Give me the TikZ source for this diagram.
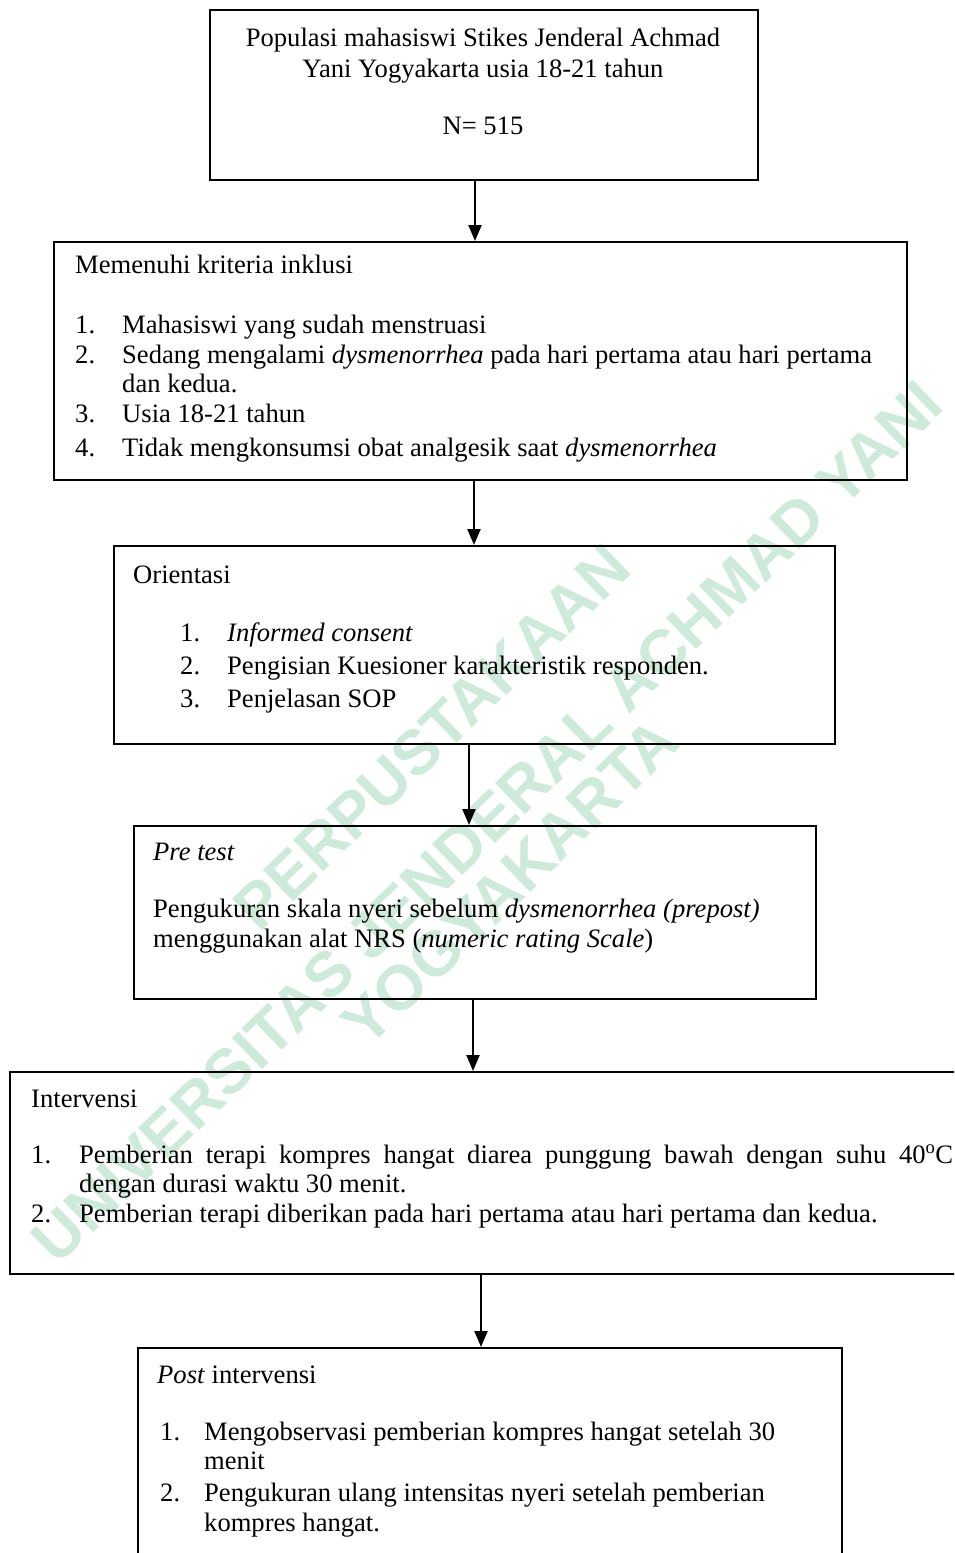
\documentclass[tikz,border=0pt]{standalone}
\usepackage{fontspec}
\setmainfont{Liberation Serif}
\newfontfamily\wmfont{Liberation Sans}
\usetikzlibrary{arrows.meta}
\definecolor{wmgreen}{RGB}{206,234,219}
\newcommand\ftxt{\fontsize{26.6}{30.6}\selectfont}
\begin{document}
\begin{tikzpicture}[x=1pt,y=-1pt,
  box/.style={draw, line width=2.2pt, inner sep=0pt, anchor=north west},
  txt/.style={anchor=base west, inner sep=0pt, font=\ftxt},
  ctxt/.style={anchor=base, inner sep=0pt, font=\ftxt},
  arr/.style={line width=2.2pt, -{Triangle[length=16pt,width=13pt]}},
  wm/.style={text=wmgreen, inner sep=0pt, rotate=44,
     font=\wmfont\bfseries\fontsize{63}{72}\selectfont}]
\useasboundingbox (0,0) rectangle (954,1553);
\clip (0,0) rectangle (954,1553);
\fill[white] (0,0) rectangle (954,1553);

% watermark
\node[wm] (wm1) at (432,737) {PERPUSTAKAAN};
\node[wm] (wm2) at (487,822) {UNIVERSITAS JENDERAL ACHMAD YANI};
\node[wm] (wm3) at (510,882) {YOGYAKARTA};

% boxes
\node[box, minimum width=548pt, minimum height=170pt] (b1) at (209,9) {};
\node[box, minimum width=853pt, minimum height=238pt] (b2) at (53,241) {};
\node[box, minimum width=721pt, minimum height=198pt] (b3) at (113,545) {};
\node[box, minimum width=682pt, minimum height=173pt] (b4) at (133,825) {};
\node[box, minimum width=990pt, minimum height=202pt] (b5) at (9,1071) {};
\node[box, minimum width=704pt, minimum height=280pt] (b6) at (137,1347) {};

% arrow x positions
\coordinate (x1) at (475,0);
\coordinate (x2) at (474,0);
\coordinate (x3) at (469,0);
\coordinate (x4) at (473,0);
\coordinate (x5) at (481,0);
\draw[arr] (b1.south -| x1) -- (b2.north -| x1);
\draw[arr] (b2.south -| x2) -- (b3.north -| x2);
\draw[arr] (b3.south -| x3) -- (b4.north -| x3);
\draw[arr] (b4.south -| x4) -- (b5.north -| x4);
\draw[arr] (b5.south -| x5) -- (b6.north -| x5);

% box 1
\node[ctxt] (t11) at (483,46) {Populasi mahasiswi Stikes Jenderal Achmad};
\node[ctxt] (t12) at (483,77) {Yani Yogyakarta usia 18-21 tahun};
\node[ctxt] (t13) at (483,134) {N= 515};

% box 2
\node[txt] (t20) at (75,273) {Memenuhi kriteria inklusi};
\node[txt] (n21) at (75,333) {1.};
\node[txt] (t21) at (122,333) {Mahasiswi yang sudah menstruasi};
\node[txt] (n22) at (75,363) {2.};
\node[txt] (t22) at (122,363) {Sedang mengalami \textit{dysmenorrhea} pada hari pertama atau hari pertama};
\node[txt] (t22b) at (122,392) {dan kedua.};
\node[txt] (n23) at (75,422) {3.};
\node[txt] (t23) at (122,422) {Usia 18-21 tahun};
\node[txt] (n24) at (75,456) {4.};
\node[txt] (t24) at (122,456) {Tidak mengkonsumsi obat analgesik saat \textit{dysmenorrhea}};

% box 3
\node[txt] (t30) at (133,583) {Orientasi};
\node[txt] (n31) at (180,641) {1.};
\node[txt] (t31) at (227,641) {\textit{Informed consent}};
\node[txt] (n32) at (180,674) {2.};
\node[txt] (t32) at (227,674) {Pengisian Kuesioner karakteristik responden.};
\node[txt] (n33) at (180,707) {3.};
\node[txt] (t33) at (227,707) {Penjelasan SOP};

% box 4
\node[txt] (t40) at (153,860) {\textit{Pre test}};
\node[txt] (t41) at (153,917) {Pengukuran skala nyeri sebelum \textit{dysmenorrhea (prepost)}};
\node[txt] (t42) at (153,947) {menggunakan alat NRS (\textit{numeric rating Scale})};

% box 5
\node[txt] (t50) at (31,1107) {Intervensi};
\node[txt] (n51) at (31,1163) {1.};
\node[txt] (t51) at (79,1163) {\makebox[874pt][s]{Pemberian terapi kompres hangat diarea punggung bawah dengan suhu 40\textsuperscript{o}C}};
\node[txt] (t51b) at (79,1192) {dengan durasi waktu 30 menit.};
\node[txt] (n52) at (31,1222) {2.};
\node[txt] (t52) at (79,1222) {Pemberian terapi diberikan pada hari pertama atau hari pertama dan kedua.};

% box 6
\node[txt] (t60) at (157,1383) {\textit{Post} intervensi};
\node[txt] (n61) at (160,1440) {1.};
\node[txt] (t61) at (204,1440) {Mengobservasi pemberian kompres hangat setelah 30};
\node[txt] (t61b) at (204,1469) {menit};
\node[txt] (n62) at (160,1501) {2.};
\node[txt] (t62) at (204,1501) {Pengukuran ulang intensitas nyeri setelah pemberian};
\node[txt] (t62b) at (204,1531) {kompres hangat.};
\end{tikzpicture}
\end{document}
